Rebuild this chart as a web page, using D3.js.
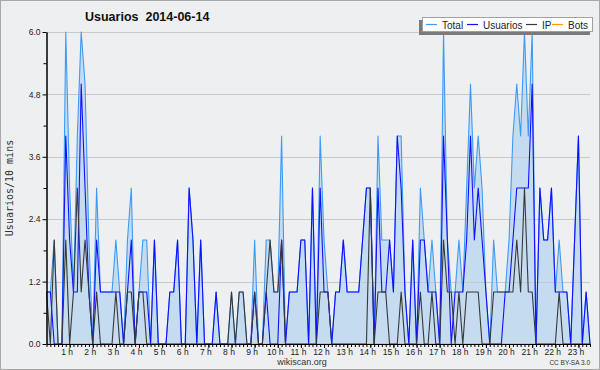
<!DOCTYPE html>
<html>
<head>
<meta charset="utf-8">
<script src="https://cdn.jsdelivr.net/npm/d3@7"></script>
<style>
  body { margin: 0; background: #fff; }
  svg { display: block; }
</style>
</head>
<body>
<div class="container"></div>
<script>
// values every 10 minutes
const total = [
  1,1,2,0,0,6,3,1,4,6, 5,2,0,3,1,1,1,1,2,1, 0,2,3,0,1,2,2,0,2,0,
  0,0,1,1,2,0,0,3,2,0, 2,0,0,0,1,0,0,0,1,0, 1,1,0,0,2,0,0,2,2,1,
  1,4,0,1,1,1,2,2,0,3, 0,4,2,1,0,1,1,2,1,1, 1,1,2,3,3,0,4,2,2,2,
  1,4,4,1,0,2,0,3,2,1, 2,1,0,6,2,1,1,2,1,3, 5,3,4,3,1,0,2,1,1,1,
  2,4,5,4,6,4,6,0,3,2, 2,3,1,2,1,1,0,2,4,0, 1,0
];
const usuarios = [
  1,1,0,0,0,4,2,1,1,5, 3,1,0,2,1,1,1,1,1,1, 0,1,2,0,1,1,1,0,2,0,
  0,0,1,1,2,0,0,3,2,0, 2,0,0,0,1,0,0,0,0,0, 0,0,0,0,1,0,0,1,0,0,
  0,2,0,1,1,1,2,2,0,3, 0,3,1,1,0,1,1,2,1,1, 1,1,2,3,3,0,3,1,1,2,
  1,4,3,1,0,2,0,2,2,1, 1,1,0,4,2,0,1,1,1,2, 4,2,3,2,1,0,0,0,0,1,
  1,2,3,3,3,3,5,0,3,2, 2,3,1,1,1,1,0,2,4,0, 1,0
];
const ip = [
  1,0,2,0,0,2,0,1,3,1, 2,1,0,1,0,0,0,0,1,0, 0,1,1,0,1,1,0,0,0,0,
  0,0,0,0,0,0,0,0,0,0, 0,0,0,0,0,0,0,0,1,0, 1,1,0,0,1,0,0,1,2,1,
  1,2,0,0,0,0,0,0,0,0, 0,1,1,1,0,0,0,0,0,0, 0,0,0,0,3,0,1,1,1,0,
  0,0,1,0,0,0,0,1,0,0, 1,0,0,2,1,1,0,1,0,1, 1,1,1,0,0,0,1,1,1,1,
  1,1,2,1,3,1,1,0,0,0, 0,0,0,1,0,0,0,0,0,0, 0,0
];
const bots = total.map(() => 0);

const hourLabels = ["1 h","2 h","3 h","4 h","5 h","6 h","7 h","8 h","9 h","10 h","11 h","12 h",
  "13 h","14 h","15 h","16 h","17 h","18 h","19 h","20 h","21 h","22 h","23 h"];
const yLabels = [0, 1.2, 2.4, 3.6, 4.8, 6.0];
const yMinor = [0.6, 1.8, 3.0, 4.2, 5.4];

const series = [
  {name: "Total", values: total, color: "#3d9bf5"},
  {name: "Usuarios", values: usuarios, color: "#1010ff"},
  {name: "IP", values: ip, color: "#383838"},
  {name: "Bots", values: bots, color: "#ff9900"}
];

const width = 600;
const height = 370;
const plotLeft = 46.5, plotRight = 590, plotTop = 32, plotBottom = 344;

const svg = d3.select("div.container")
  .append("svg")
  .attr("width", width)
  .attr("height", height)
  .style("font-family", "'Liberation Sans', Arial, sans-serif");

svg.append("rect")
  .attr("x", 0.5).attr("y", 0.5)
  .attr("width", width - 1).attr("height", height - 1)
  .attr("fill", "#eeeff1")
  .attr("stroke", "#a8a8a8");

const x = d3.scaleLinear().domain([0, total.length - 1]).range([plotLeft, plotRight]);
const y = d3.scaleLinear().domain([0, 6]).range([plotBottom, plotTop]);

// area under total
svg.append("path")
  .datum(total)
  .attr("fill", "#c5dcf0")
  .attr("d", d3.area().x((d, i) => x(i)).y0(y(0)).y1(d => y(d)));

// grid
svg.append("g")
  .selectAll("line")
  .data(yLabels.slice(1))
  .enter()
  .append("line")
  .attr("x1", plotLeft).attr("x2", plotRight)
  .attr("y1", d => Math.round(y(d)) + 0.5)
  .attr("y2", d => Math.round(y(d)) + 0.5)
  .attr("stroke", "#c9c9c9");

const line = d3.line().x((d, i) => x(i)).y(d => y(d));

// bots sits on the zero line, under the axis
svg.append("path")
  .datum(bots)
  .attr("fill", "none")
  .attr("stroke", "#ff9900")
  .attr("d", line);

for (let s of series.slice(0, 3)) {
  svg.append("path")
    .datum(s.values)
    .attr("fill", "none")
    .attr("stroke", s.color)
    .attr("stroke-width", 1.1)
    .attr("stroke-linejoin", "round")
    .attr("d", line);
}

// y axis
const yAxis = svg.append("g")
  .attr("transform", `translate(${plotLeft},0)`)
  .call(d3.axisLeft(y).tickValues(yLabels).tickSize(4).tickSizeOuter(0).tickFormat(d3.format(".1f")));
svg.append("g")
  .attr("transform", `translate(${plotLeft},0)`)
  .call(d3.axisLeft(y).tickValues(yMinor).tickSize(3).tickSizeOuter(0).tickFormat(""));

// x axis: a tick every 10 minutes, longer ones on the hour
const hourIdx = hourLabels.map((h, k) => (k + 1) * 6);
svg.append("g")
  .attr("transform", `translate(0,${plotBottom})`)
  .call(d3.axisBottom(x).tickValues(d3.range(0, total.length)).tickSize(3).tickSizeOuter(0).tickFormat(""));
const xAxis = svg.append("g")
  .attr("transform", `translate(0,${plotBottom})`)
  .call(d3.axisBottom(x).tickValues(hourIdx).tickSize(4).tickSizeOuter(0)
    .tickFormat((d, k) => hourLabels[k]));

svg.selectAll(".domain").attr("stroke", "#000");
svg.selectAll(".tick line").attr("stroke", "#000");
yAxis.selectAll("text").attr("font-size", 8.5).attr("fill", "#222")
  .attr("font-family", "'Liberation Sans', Arial, sans-serif").attr("dx", 1);
xAxis.selectAll("text").attr("font-size", 8.5).attr("fill", "#222")
  .attr("font-family", "'Liberation Sans', Arial, sans-serif")
  .attr("y", 4.5).attr("dx", -3).attr("dy", "0.71em");

// title and labels
svg.append("text")
  .attr("x", 85).attr("y", 21)
  .attr("font-size", 12.5).attr("font-weight", "bold").attr("fill", "#111")
  .style("white-space", "pre")
  .text("Usuarios  2014-06-14");

svg.append("text")
  .attr("transform", "translate(13,188) rotate(-90)")
  .attr("text-anchor", "middle")
  .attr("font-family", "'DejaVu Sans Mono', monospace")
  .attr("font-size", 10).attr("fill", "#333")
  .text("Usuarios/10 mins");

svg.append("text")
  .attr("x", 302).attr("y", 365)
  .attr("text-anchor", "middle")
  .attr("font-size", 9).attr("fill", "#333")
  .text("wikiscan.org");

svg.append("text")
  .attr("x", 590).attr("y", 365)
  .attr("text-anchor", "end")
  .attr("font-size", 6.5).attr("fill", "#333")
  .text("CC BY-SA 3.0");

// legend
const legend = svg.append("g");
legend.append("rect")
  .attr("x", 419).attr("y", 20).attr("width", 171).attr("height", 15)
  .attr("fill", "#7a7a7a");
legend.append("rect")
  .attr("x", 422.5).attr("y", 17.5).attr("width", 170).attr("height", 14)
  .attr("fill", "#fff").attr("stroke", "#a0a0a0");
const legendX = [426, 467, 526, 552];
const item = legend.selectAll("g.item")
  .data(series)
  .enter()
  .append("g")
  .attr("transform", (d, k) => `translate(${legendX[k]},24.5)`);
item.append("line")
  .attr("x1", 0).attr("x2", 11)
  .attr("stroke", d => d.color).attr("stroke-width", 1.2);
item.append("text")
  .attr("x", 16).attr("y", 4)
  .attr("font-size", 10).attr("fill", "#222")
  .text(d => d.name);
</script>
</body>
</html>
